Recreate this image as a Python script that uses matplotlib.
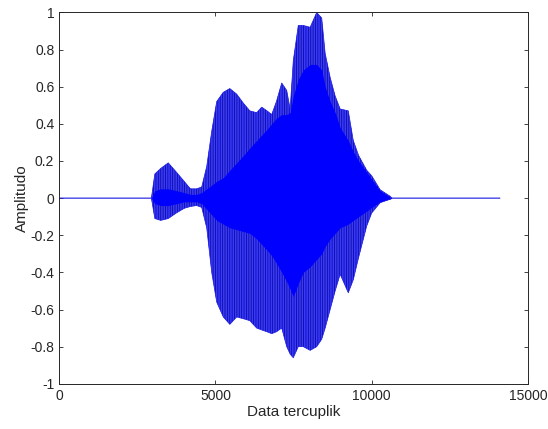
import matplotlib
matplotlib.use("Agg")
import matplotlib.pyplot as plt

# Envelope of the speech signal
sample_idx = [0, 2950, 3060, 3250, 3490, 3750, 4000, 4200, 4400, 4560, 4720,
              4880, 5040, 5250, 5460, 5680, 5900, 6100, 6320, 6480, 6650,
              6800, 6950, 7120, 7280, 7390, 7490, 7650, 7810, 8030, 8240,
              8400, 8510, 8670, 8830, 8990, 9250, 9410, 9580, 9840, 10000,
              10270, 10590, 10650, 14100]
# outer peaks (one per pitch period)
peak_hi = [0, 0, 0.13, 0.16, 0.19, 0.14, 0.09, 0.05, 0.05, 0.06, 0.17,
           0.36, 0.52, 0.57, 0.59, 0.56, 0.51, 0.47, 0.46, 0.49, 0.47,
           0.45, 0.52, 0.62, 0.58, 0.48, 0.74, 0.93, 0.93, 0.92, 1.00,
           0.97, 0.78, 0.65, 0.55, 0.48, 0.47, 0.31, 0.23, 0.15, 0.12,
           0.045, 0.01, 0, 0]
peak_lo = [0, 0, -0.11, -0.12, -0.11, -0.08, -0.055, -0.045, -0.04, -0.05, -0.16,
           -0.40, -0.56, -0.64, -0.68, -0.64, -0.65, -0.66, -0.70, -0.71, -0.72,
           -0.73, -0.72, -0.70, -0.80, -0.84, -0.86, -0.80, -0.80, -0.82, -0.80,
           -0.76, -0.70, -0.60, -0.50, -0.41, -0.51, -0.44, -0.32, -0.15, -0.08,
           -0.025, -0.005, 0, 0]
# dense inner band
dense_hi = [0, 0, 0.04, 0.05, 0.05, 0.04, 0.03, 0.02, 0.02, 0.03, 0.05,
            0.07, 0.09, 0.11, 0.15, 0.19, 0.23, 0.27, 0.31, 0.34, 0.37,
            0.40, 0.43, 0.45, 0.45, 0.46, 0.55, 0.64, 0.69, 0.72, 0.72,
            0.69, 0.60, 0.52, 0.46, 0.38, 0.31, 0.25, 0.20, 0.14, 0.10,
            0.04, 0.005, 0, 0]
dense_lo = [0, 0, -0.03, -0.04, -0.04, -0.03, -0.02, -0.02, -0.02, -0.03, -0.06,
            -0.09, -0.12, -0.14, -0.16, -0.17, -0.18, -0.19, -0.22, -0.25, -0.28,
            -0.31, -0.35, -0.40, -0.45, -0.49, -0.53, -0.46, -0.40, -0.37, -0.33,
            -0.30, -0.26, -0.22, -0.19, -0.16, -0.14, -0.12, -0.10, -0.07, -0.05,
            -0.02, -0.005, 0, 0]

x_ticks = [0, 5000, 10000, 15000]
y_ticks = [-1, -0.8, -0.6, -0.4, -0.2, 0, 0.2, 0.4, 0.6, 0.8, 1]
y_labels = ["-1", "-0.8", "-0.6", "-0.4", "-0.2", "0", "0.2", "0.4", "0.6", "0.8", "1"]

plt.rcParams["font.family"] = ["Liberation Sans", "DejaVu Sans"]
plt.rcParams["hatch.linewidth"] = 0.6
plt.rcParams["hatch.color"] = "#0c0c9c"

grey = "#262626"
fig = plt.figure(figsize=(5.48, 4.29), dpi=100)
ax = fig.add_axes([0.108, 0.1054, 0.8555, 0.8656])

# striped outer region, then the solid dense band on top
ax.fill_between(sample_idx, peak_lo, peak_hi, facecolor="#3a3aff",
                edgecolor="#0c0c9c", hatch="|||||||", linewidth=0)
ax.fill_between(sample_idx, dense_lo, dense_hi, color="#0000ff", linewidth=0)
ax.plot(sample_idx, peak_hi, color="#1a1ae0", linewidth=0.5)
ax.plot(sample_idx, peak_lo, color="#1a1ae0", linewidth=0.5)

ax.set_xlim(0, 15000)
ax.set_ylim(-1, 1)
ax.set_xticks(x_ticks)
ax.set_xticklabels([str(t) for t in x_ticks])
ax.set_yticks(y_ticks)
ax.set_yticklabels(y_labels)
ax.tick_params(direction="in", top=True, right=True, length=3, width=0.6,
               colors=grey, labelsize=10, labelcolor=grey)
for s in ax.spines.values():
    s.set_color(grey)
    s.set_linewidth(0.7)

ax.set_xlabel("Data tercuplik", fontsize=11, color=grey, labelpad=2)
ax.set_ylabel("Amplitudo", fontsize=11, color=grey, labelpad=1)

fig.savefig("out.png", dpi=100)
